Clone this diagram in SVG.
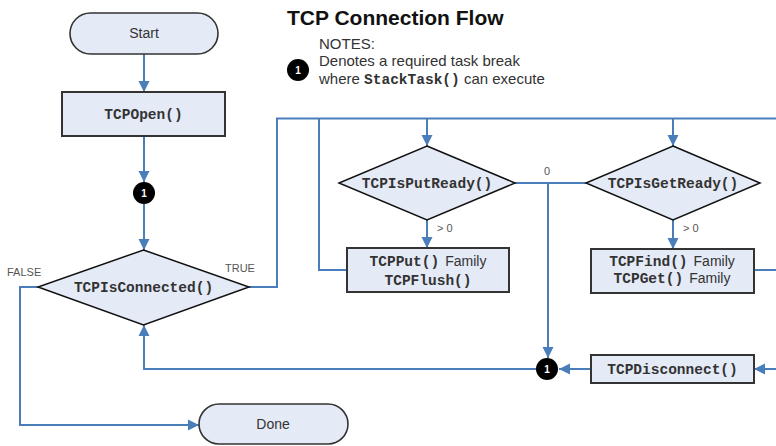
<svg xmlns="http://www.w3.org/2000/svg" width="776" height="446" viewBox="0 0 776 446">
<style>
.c{fill:none;stroke:#4a7ebb;stroke-width:2}
.term{fill:#e4eaf6;stroke:#333;stroke-width:1.6}
.box{fill:#e4eaf6;stroke:#333;stroke-width:2}
.dia{fill:#e4eaf6;stroke:#111;stroke-width:1.5}
.mono{font-family:"Liberation Mono","DejaVu Sans Mono",monospace;font-weight:bold;font-size:14.5px;fill:#333}
.sans{font-family:"Liberation Sans",Arial,sans-serif;fill:#333}
.lbl{font-family:"Liberation Sans",Arial,sans-serif;font-size:11px;fill:#555}
.dot{fill:#000}
.dott{font-family:"Liberation Sans",Arial,sans-serif;font-size:10px;font-weight:bold;fill:#fff}
</style>
<defs>
<marker id="ah" markerUnits="userSpaceOnUse" markerWidth="12" markerHeight="12" refX="11" refY="6" orient="auto">
<path d="M0,0.5 L11,6 L0,11.5 Z" fill="#4a7ebb"/>
</marker>
</defs>
<g id="title">
<text x="287" y="25" font-family="'Liberation Sans',Arial,sans-serif" font-weight="bold" font-size="21" fill="#111">TCP Connection Flow</text>
<text class="sans" x="319" y="49" font-size="15">NOTES:</text>
<circle class="dot" cx="298" cy="70" r="11"/>
<text class="dott" x="298" y="73.5" text-anchor="middle">1</text>
<text class="sans" x="319" y="66" font-size="15">Denotes a required task break</text>
<text class="sans" x="319" y="84" font-size="15">where <tspan class="mono" font-size="14.5">StackTask()</tspan> can execute</text>
</g>
<g id="connectors">
<path class="c" d="M144,54 V92" marker-end="url(#ah)"/>
<path class="c" d="M144,136 V182" marker-end="url(#ah)"/>
<path class="c" d="M144,204 V250" marker-end="url(#ah)"/>
<path class="c" d="M249,287 H277 V118.5 H776"/>
<path class="c" d="M319,118.5 V270 H347"/>
<path class="c" d="M427,118.5 V146" marker-end="url(#ah)"/>
<path class="c" d="M673,118.5 V146" marker-end="url(#ah)"/>
<path class="c" d="M427,220 V248" marker-end="url(#ah)"/>
<path class="c" d="M673,220 V249" marker-end="url(#ah)"/>
<path class="c" d="M515,183 H586"/>
<path class="c" d="M548,183 V358" marker-end="url(#ah)"/>
<path class="c" d="M754,270 H776"/>
<path class="c" d="M776,369 H754" marker-end="url(#ah)"/>
<path class="c" d="M591,369 H559" marker-end="url(#ah)"/>
<path class="c" d="M536,369 H144 V325" marker-end="url(#ah)"/>
<path class="c" d="M38,287 H20 V425 H199" marker-end="url(#ah)"/>
<text class="lbl" x="7" y="276">FALSE</text>
<text class="lbl" x="225" y="272">TRUE</text>
<text class="lbl" x="544" y="175">0</text>
<text class="lbl" x="437" y="232">&gt; 0</text>
<text class="lbl" x="683" y="232">&gt; 0</text>
</g>
<g id="start">
<rect class="term" x="70" y="13" width="148" height="41" rx="20.5"/>
<text class="sans" x="144" y="38" font-size="14" text-anchor="middle">Start</text>
</g>
<g id="tcpopen">
<rect class="box" x="62" y="92" width="163" height="44"/>
<text class="mono" x="143.5" y="119" text-anchor="middle">TCPOpen()</text>
</g>
<g id="break1">
<circle class="dot" cx="144" cy="193" r="11"/>
<text class="dott" x="144" y="196.5" text-anchor="middle">1</text>
</g>
<g id="tcpisconnected">
<polygon class="dia" points="143.5,250 249,287 143.5,325 38,287"/>
<text class="mono" x="143.5" y="292" text-anchor="middle">TCPIsConnected()</text>
</g>
<g id="tcpisputready">
<polygon class="dia" points="427,146 515,183 427,220 339,183"/>
<text class="mono" x="427" y="188" text-anchor="middle">TCPIsPutReady()</text>
</g>
<g id="tcpput">
<rect class="box" x="347" y="248" width="162" height="44"/>
<text x="428" y="266" text-anchor="middle"><tspan class="mono">TCPPut()</tspan><tspan class="sans" font-size="14" dx="6">Family</tspan></text>
<text class="mono" x="428" y="285" text-anchor="middle">TCPFlush()</text>
</g>
<g id="tcpisgetready">
<polygon class="dia" points="673,146 760,183 673,220 586,183"/>
<text class="mono" x="673" y="188" text-anchor="middle">TCPIsGetReady()</text>
</g>
<g id="tcpfind">
<rect class="box" x="591" y="249" width="163" height="44"/>
<text x="672" y="266" text-anchor="middle"><tspan class="mono">TCPFind()</tspan><tspan class="sans" font-size="14" dx="6">Family</tspan></text>
<text x="672" y="283" text-anchor="middle"><tspan class="mono">TCPGet()</tspan><tspan class="sans" font-size="14" dx="6">Family</tspan></text>
</g>
<g id="break2">
<circle class="dot" cx="547" cy="369" r="11"/>
<text class="dott" x="547" y="372.5" text-anchor="middle">1</text>
</g>
<g id="tcpdisconnect">
<rect class="box" x="591" y="355" width="163" height="28"/>
<text class="mono" x="672.5" y="374" text-anchor="middle">TCPDisconnect()</text>
</g>
<g id="done">
<rect class="term" x="199" y="404" width="149" height="40" rx="20"/>
<text class="sans" x="273" y="429" font-size="14" text-anchor="middle">Done</text>
</g>
</svg>
